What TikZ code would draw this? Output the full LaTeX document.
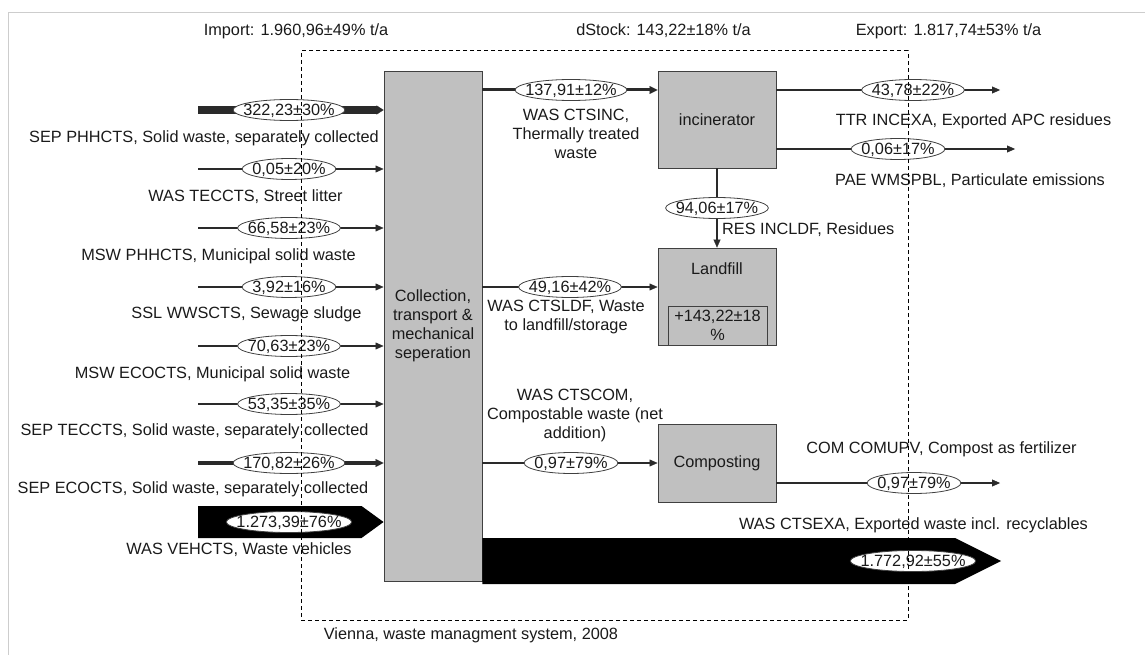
\documentclass[tikz,border=0pt]{standalone}
\usepackage{fontspec}
\setmainfont{Liberation Sans}
\usetikzlibrary{arrows.meta,calc}
\definecolor{boxgray}{HTML}{C0C0C0}
\definecolor{edgegray}{HTML}{404040}
\definecolor{flowcol}{HTML}{2A2A2A}
\definecolor{framegray}{HTML}{CDCDCD}
\definecolor{inkcol}{HTML}{1A1A1A}

% value tag: an ellipse sized to its text, filled white over the flow line
\newcommand\flowtag[3]{%
  \node[tagtext, opacity=0] (#1) at (#2) {#3};
  \filldraw[tagring] let \p1=($(#1.east)-(#1.west)$) in
    (#1.center) ellipse [x radius={0.5*\x1+10pt}, y radius=10.5pt];
  \node[tagtext] at (#1.center) {#3};
}

\begin{document}
\begin{tikzpicture}[x=1pt, y=-1pt,
  every node/.style={font=\fontsize{16.3}{19}\selectfont, text=inkcol},
  process/.style={draw=edgegray, fill=boxgray, line width=0.9pt, inner sep=2pt, align=center},
  flow/.style={draw=flowcol, line width=1.1pt, -{Triangle[length=8pt,width=7pt,line width=0.4pt]}},
  tagtext/.style={inner sep=0pt, text height=11.7pt, text depth=0pt},
  tagring/.style={draw=edgegray, fill=white, line width=0.8pt},
  caption/.style={inner sep=0pt, align=center},
  flowname/.style={inner sep=0pt, anchor=mid},
  boundary/.style={draw=black, line width=1pt, dash pattern=on 4pt off 3pt},
]
\path[use as bounding box] (0,0) rectangle (1145,655);
\draw[framegray, line width=1pt] (8,655) -- (8,13) -- (1145,13);

% processes
\node[process, minimum width=98pt, minimum height=510pt] (coll) at (433,326)
  {Collection,\\transport \&\\mechanical\\seperation};
\node[process, minimum width=118pt, minimum height=97pt] (inc) at (717,119.5) {incinerator};
\node[process, minimum width=118pt, minimum height=97pt] (ldf) at (717,296.5) {};
\node[flowname] (ldftitle) at (717,272) {Landfill};
\node[process, inner sep=0pt, minimum width=99pt, minimum height=39pt] (stock) at (717.5,325.5)
  {+143,22±18\\\%};
\node[process, minimum width=118pt, minimum height=78pt] (comp) at (717,463) {Composting};

% free ends and flow rows
\coordinate (in1) at (198,110);
\coordinate (in2) at (198,169);
\coordinate (in3) at (198,228);
\coordinate (in4) at (198,287);
\coordinate (in5) at (198,346);
\coordinate (in6) at (198,404);
\coordinate (in7) at (198,463);
\coordinate (in8) at (198,522);
\coordinate (yinc) at (0,90);
\coordinate (yldf) at (0,287);
\coordinate (ttr) at (1000,90);
\coordinate (pae) at (1015,149);
\coordinate (cmpv) at (1000,483);
\coordinate (exa) at (1001,561);

% imports
\draw[flow, line width=8pt, -{Triangle[length=7pt,width=9pt,line width=0.1pt]}] (in1) -- (coll.west |- in1);
\draw[flow] (in2) -- (coll.west |- in2);
\draw[flow] (in3) -- (coll.west |- in3);
\draw[flow] (in4) -- (coll.west |- in4);
\draw[flow] (in5) -- (coll.west |- in5);
\draw[flow] (in6) -- (coll.west |- in6);
\draw[flow, line width=3.5pt, -{Triangle[length=8pt,width=8pt,line width=0.1pt]}] (in7) -- (coll.west |- in7);
\fill[black] ($(in8)+(0,-16)$) -- ($(coll.west |- in8)+(-22,-16)$) -- (coll.west |- in8)
  -- ($(coll.west |- in8)+(-22,16)$) -- ($(in8)+(0,16)$) -- cycle;

% internal flows
\draw[flow, line width=3pt, -{Triangle[length=8pt,width=8pt,line width=0.1pt]}] (coll.east |- yinc) -- (inc.west |- yinc);
\draw[flow] (coll.east |- yldf) -- (ldf.west |- yldf);
\draw[flow] (coll.east |- comp.west) -- (comp.west);
\draw[flow, line width=2pt, -{Triangle[length=8pt,width=7pt,line width=0.1pt]}] (inc.south) -- (ldf.north);

% exports
\draw[flow] (inc.east |- ttr) -- (ttr);
\draw[flow] (inc.east |- pae) -- (pae);
\draw[flow] (comp.east |- cmpv) -- (cmpv);
\fill[black] ($(coll.east |- exa)+(0,-23)$) -- ($(exa)+(-46,-23)$) -- (exa)
  -- ($(exa)+(-46,23)$) -- ($(coll.east |- exa)+(0,23)$) -- cycle;

% values
\flowtag{t1}{289,110}{322,23±30\%}
\flowtag{t2}{289,169}{0,05±20\%}
\flowtag{t3}{289,228}{66,58±23\%}
\flowtag{t4}{289,287}{3,92±16\%}
\flowtag{t5}{289,346}{70,63±23\%}
\flowtag{t6}{289,404}{53,35±35\%}
\flowtag{t7}{289,463}{170,82±26\%}
\flowtag{t8}{289,522}{1.273,39±76\%}
\flowtag{t9}{571,90}{137,91±12\%}
\flowtag{t10}{570,287}{49,16±42\%}
\flowtag{t11}{571,463}{0,97±79\%}
\flowtag{t12}{717,208}{94,06±17\%}
\flowtag{t13}{913,90}{43,78±22\%}
\flowtag{t14}{898,149}{0,06±17\%}
\flowtag{t15}{914,483}{0,97±79\%}
\flowtag{t16}{913,561}{1.772,92±55\%}

% flow names
\node[flowname] (n1) at (204,140) {SEP PHHCTS, Solid waste, separately collected};
\node[flowname] (n2) at (245.5,199) {WAS TECCTS, Street litter};
\node[flowname] (n3) at (218.5,258) {MSW PHHCTS, Municipal solid waste};
\node[flowname] (n4) at (246.5,316) {SSL WWSCTS, Sewage sludge};
\node[flowname] (n5) at (212.5,376) {MSW ECOCTS, Municipal solid waste};
\node[flowname] (n6) at (194.5,433) {SEP TECCTS, Solid waste, separately collected};
\node[flowname] (n7) at (193,491) {SEP ECOCTS, Solid waste, separately collected};
\node[flowname] (n8) at (239,552) {WAS VEHCTS, Waste vehicles};
\node[caption] (n9) at (576,134) {WAS CTSINC,\\Thermally treated\\waste};
\node[caption] (n10) at (566,317) {WAS CTSLDF, Waste\\to landfill/storage};
\node[caption] (n11) at (575,415) {WAS CTSCOM,\\Compostable waste (net\\addition)};
\node[flowname, anchor=mid west] (n12) at (722,232) {RES INCLDF, Residues};
\node[flowname] (n13) at (973.5,123) {TTR INCEXA, Exported APC residues};
\node[flowname] (n14) at (970,183) {PAE WMSPBL, Particulate emissions};
\node[flowname] (n15) at (941.5,451) {COM COMUPV, Compost as fertilizer};
\node[flowname, anchor=mid east] (n16) at (1088,527) {WAS CTSEXA, Exported waste incl. recyclables};

% system boundary and balance
\node[boundary, minimum width=607pt, minimum height=569pt, inner sep=0pt] (system) at (604.5,335.5) {};
\node[flowname] (import) at (296,33) {Import: 1.960,96±49\% t/a};
\node[flowname] (dstock) at (663.5,33) {dStock: 143,22±18\% t/a};
\node[flowname] (export) at (948.5,33) {Export: 1.817,74±53\% t/a};
\node[flowname] (sysname) at (471,637) {Vienna, waste managment system, 2008};
\end{tikzpicture}
\end{document}
